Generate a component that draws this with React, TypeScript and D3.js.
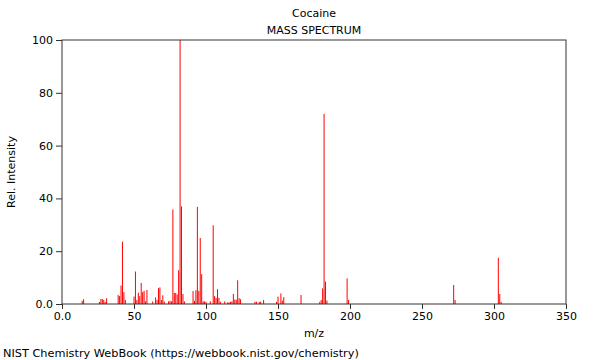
import { useEffect, useRef } from "react"
import * as d3 from "d3"

// m/z values and relative intensities
const mz = [
  14, 15, 26, 27, 28, 29, 30, 31, 39, 40, 41, 42, 43, 44, 50, 51, 52, 53, 54, 55, 56, 57, 58, 59,
  63, 65, 66, 67, 68, 69, 70, 71, 74, 75, 76, 77, 78, 79, 80, 81, 82, 83, 84, 85, 91, 92, 93, 94,
  95, 96, 97, 98, 99, 100, 103, 105, 106, 107, 108, 109, 110, 113, 115, 116, 117, 118, 119, 120,
  121, 122, 123, 124, 134, 135, 137, 138, 140, 149, 150, 152, 153, 154, 166, 179, 180, 181, 182,
  183, 184, 198, 199, 272, 273, 303, 304, 305,
]
const intensity = [
  1.2, 1.8, 0.8, 1.9, 1.9, 1.5, 0.8, 2.2, 3.4, 3.0, 7.0, 23.6, 4.5, 1.5, 2.8, 12.3, 1.5, 4.3, 3.0, 8.0, 4.5, 5.0, 1.0, 5.3,
  1.0, 2.5, 1.5, 6.0, 6.3, 1.5, 3.3, 1.0, 1.0, 1.2, 1.0, 35.8, 4.2, 4.2, 3.6, 12.8, 100, 37, 3.8, 1.0, 4.9, 1.2, 5.2, 36.8,
  5.0, 25, 11.3, 1.0, 1.0, 0.8, 1.0, 29.8, 3.0, 2.3, 5.6, 2.3, 0.8, 1.0, 0.6, 0.6, 0.8, 1.0, 3.8, 1.7,
  1.6, 9.0, 2.2, 1.8, 0.8, 0.9, 0.8, 0.9, 1.5, 0.8, 2.8, 4.0, 1.3, 2.6, 3.4, 0.8, 1.5, 5.9, 72,
  8.5, 1.3, 9.7, 1.5, 7.2, 1.5, 17.5, 3.8, 0.8,
]

const xMajor = [0, 50, 100, 150, 200, 250, 300, 350]
const yMajor = [0, 20, 40, 60, 80, 100]

export default function App() {
  const svgRef = useRef<SVGSVGElement>(null)

  useEffect(() => {
    if (!svgRef.current) return
    const svg = d3.select(svgRef.current)
    svg.selectAll("*").remove()

    const margin = { top: 40, right: 34, bottom: 56, left: 62 }
    const width = 600
    const height = 360
    const fmt = (d: number) => (d === 0 ? "0.0" : String(d))

    const x = d3.scaleLinear().domain([0, 350]).range([margin.left, width - margin.right])
    const y = d3.scaleLinear().domain([0, 100]).range([height - margin.bottom, margin.top])

    const font = "DejaVu Sans, sans-serif"

    // peaks
    svg.append("g")
      .selectAll("line")
      .data(mz)
      .enter()
      .append("line")
      .attr("x1", (d) => x(d))
      .attr("x2", (d) => x(d))
      .attr("y1", y(0))
      .attr("y2", (d, i) => y(intensity[i]))
      .attr("stroke", "#ff0000")
      .attr("stroke-width", 1)

    // frame
    svg.append("rect")
      .attr("x", x(0))
      .attr("y", y(100))
      .attr("width", x(350) - x(0))
      .attr("height", y(0) - y(100))
      .attr("fill", "none")
      .attr("stroke", "#333")
      .attr("stroke-width", 1)

    // x axis: minor ticks then major ticks
    const xg = svg.append("g").attr("transform", `translate(0,${y(0)})`)
    xg.call(d3.axisBottom(x).tickValues(d3.range(0, 351, 10)).tickSize(3).tickFormat(() => ""))
    xg.call(d3.axisBottom(x).tickValues(xMajor).tickSize(5).tickFormat((d) => fmt(+d)))
    xg.select(".domain").remove()

    const yg = svg.append("g").attr("transform", `translate(${x(0)},0)`)
    yg.call(d3.axisLeft(y).tickValues(d3.range(0, 101, 5)).tickSize(3).tickFormat(() => ""))
    yg.call(d3.axisLeft(y).tickValues(yMajor).tickSize(6).tickFormat((d) => fmt(+d)))
    yg.select(".domain").remove()

    svg.selectAll(".tick line").attr("stroke", "#333")
    svg.selectAll(".tick text").attr("fill", "#000").style("font-family", font).style("font-size", "11px")

    // titles
    const cx = (x(0) + x(350)) / 2
    svg.append("text").attr("x", cx).attr("y", 17).attr("text-anchor", "middle")
      .style("font-family", font).style("font-size", "11px").text("Cocaine")
    svg.append("text").attr("x", cx).attr("y", 34).attr("text-anchor", "middle")
      .style("font-family", font).style("font-size", "11px").text("MASS SPECTRUM")
    svg.append("text").attr("x", cx).attr("y", 337).attr("text-anchor", "middle")
      .style("font-family", font).style("font-size", "11px").text("m/z")
    svg.append("text")
      .attr("transform", `translate(15,${(y(0) + y(100)) / 2}) rotate(-90)`)
      .attr("text-anchor", "middle")
      .style("font-family", font).style("font-size", "11px").text("Rel. Intensity")
    svg.append("text").attr("x", 3).attr("y", 357)
      .style("font-family", font).style("font-size", "11.3px")
      .text("NIST Chemistry WebBook (https://webbook.nist.gov/chemistry)")
  }, [])

  return (
    <svg
      ref={svgRef}
      width={600}
      height={360}
      style={{ position: "absolute", left: 0, top: 0, background: "#fff" }}
    />
  )
}
